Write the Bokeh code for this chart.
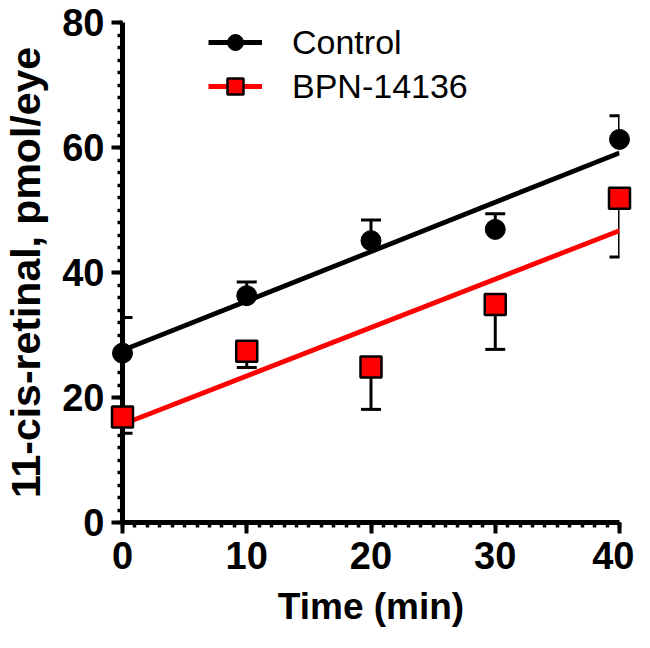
import numpy as np
from bokeh.plotting import figure
from bokeh.models import (ColumnDataSource, Whisker, TeeHead, SingleIntervalTicker,
                          Range1d, Legend, LegendItem)
from bokeh.embed import file_html
from bokeh.resources import INLINE

# ---- data ----
time_min = [0, 10, 20, 30, 40]
control_mean = [27.1, 36.3, 45.1, 46.9, 61.3]
control_sem = [5.7, 2.2, 3.3, 2.5, 3.8]
bpn_mean = [16.9, 27.4, 24.9, 34.9, 51.9]
bpn_sem = [2.6, 2.6, 6.8, 7.2, 9.4]
x_ticks = [0, 10, 20, 30, 40]
y_ticks = [0, 20, 40, 60, 80]
series_names = ["Control", "BPN-14136"]

FONT = "Liberation Sans"
FW, FH = 634, 632
BL, BR, BT, BB = 120, 15, 22, 110

p = figure(width=FW, height=FH, output_backend="svg", toolbar_location=None,
           x_range=Range1d(x_ticks[0], x_ticks[-1]), y_range=Range1d(y_ticks[0], y_ticks[-1]),
           min_border_left=BL, min_border_right=BR, min_border_top=BT,
           min_border_bottom=BB)
p.background_fill_color = "white"
p.border_fill_color = "white"
p.outline_line_color = None
p.grid.visible = False

x = np.array(time_min, dtype=float)
fit_x = np.array([x_ticks[0], x_ticks[-1]], dtype=float)

renderers = {}
for name, mean, sem, color, marker, up in [
        (series_names[0], control_mean, control_sem, "black", "circle", True),
        (series_names[1], bpn_mean, bpn_sem, "#ff0000", "square", False)]:
    mean_a = np.array(mean)
    sem_a = np.array(sem)
    slope, intercept = np.polyfit(x, mean_a, 1)
    line = p.line(fit_x, slope * fit_x + intercept, line_color=color, line_width=4.8)
    if up:
        src = ColumnDataSource(dict(x=x, lo=mean_a, hi=mean_a + sem_a))
        w = Whisker(base="x", lower="lo", upper="hi", source=src, line_width=3,
                    line_color="black", lower_head=None,
                    upper_head=TeeHead(size=20, line_width=3, line_color="black"))
    else:
        src = ColumnDataSource(dict(x=x, lo=mean_a - sem_a, hi=mean_a))
        w = Whisker(base="x", lower="lo", upper="hi", source=src, line_width=3,
                    line_color="black", upper_head=None,
                    lower_head=TeeHead(size=20, line_width=3, line_color="black"))
    p.add_layout(w)
    if marker == "circle":
        sc = p.scatter(x, mean_a, marker="circle", size=20, fill_color="black",
                       line_color="black", line_width=1, level="overlay")
    else:
        sc = p.scatter(x, mean_a, marker="square", size=21, fill_color=color,
                       line_color="black", line_width=2.5, level="overlay")
    renderers[name] = [line, sc]

frame_h = FH - BT - BB
legend = Legend(items=[LegendItem(label=n, renderers=renderers[n]) for n in series_names],
                location=(86, frame_h - 84), orientation="vertical")
legend.label_text_font = FONT
legend.label_text_font_size = "34px"
legend.label_text_color = "black"
legend.glyph_width = 54
legend.glyph_height = 40
legend.label_height = 40
legend.spacing = 4
legend.label_standoff = 30
legend.padding = 0
legend.margin = 0
legend.border_line_color = None
legend.background_fill_alpha = 0
p.add_layout(legend)

p.xaxis.ticker = SingleIntervalTicker(interval=10, num_minor_ticks=10)
p.yaxis.ticker = SingleIntervalTicker(interval=20, num_minor_ticks=10)

for ax in (p.xaxis, p.yaxis):
    ax.axis_line_width = 5
    ax.axis_line_color = "black"
    ax.major_tick_line_width = 4
    ax.major_tick_line_color = "black"
    ax.major_tick_out = 11
    ax.major_tick_in = 0
    ax.minor_tick_line_width = 3.5
    ax.minor_tick_line_color = "black"
    ax.minor_tick_out = 5
    ax.minor_tick_in = 0
    ax.major_label_text_font = FONT
    ax.major_label_text_font_style = "bold"
    ax.major_label_text_font_size = "38px"
    ax.major_label_text_color = "black"
    ax.axis_label_text_font = FONT
    ax.axis_label_text_font_style = "bold"
    ax.axis_label_text_color = "black"

p.xaxis.axis_label = "Time (min)"
p.yaxis.axis_label = "11-cis-retinal, pmol/eye"
p.xaxis.axis_label_text_font_size = "37px"
p.yaxis.axis_label_text_font_size = "41px"
p.xaxis.major_label_standoff = 8
p.yaxis.major_label_standoff = 7
p.xaxis.axis_label_standoff = 14
p.yaxis.axis_label_standoff = 10

open("out.html", "w").write(file_html(p, INLINE))
